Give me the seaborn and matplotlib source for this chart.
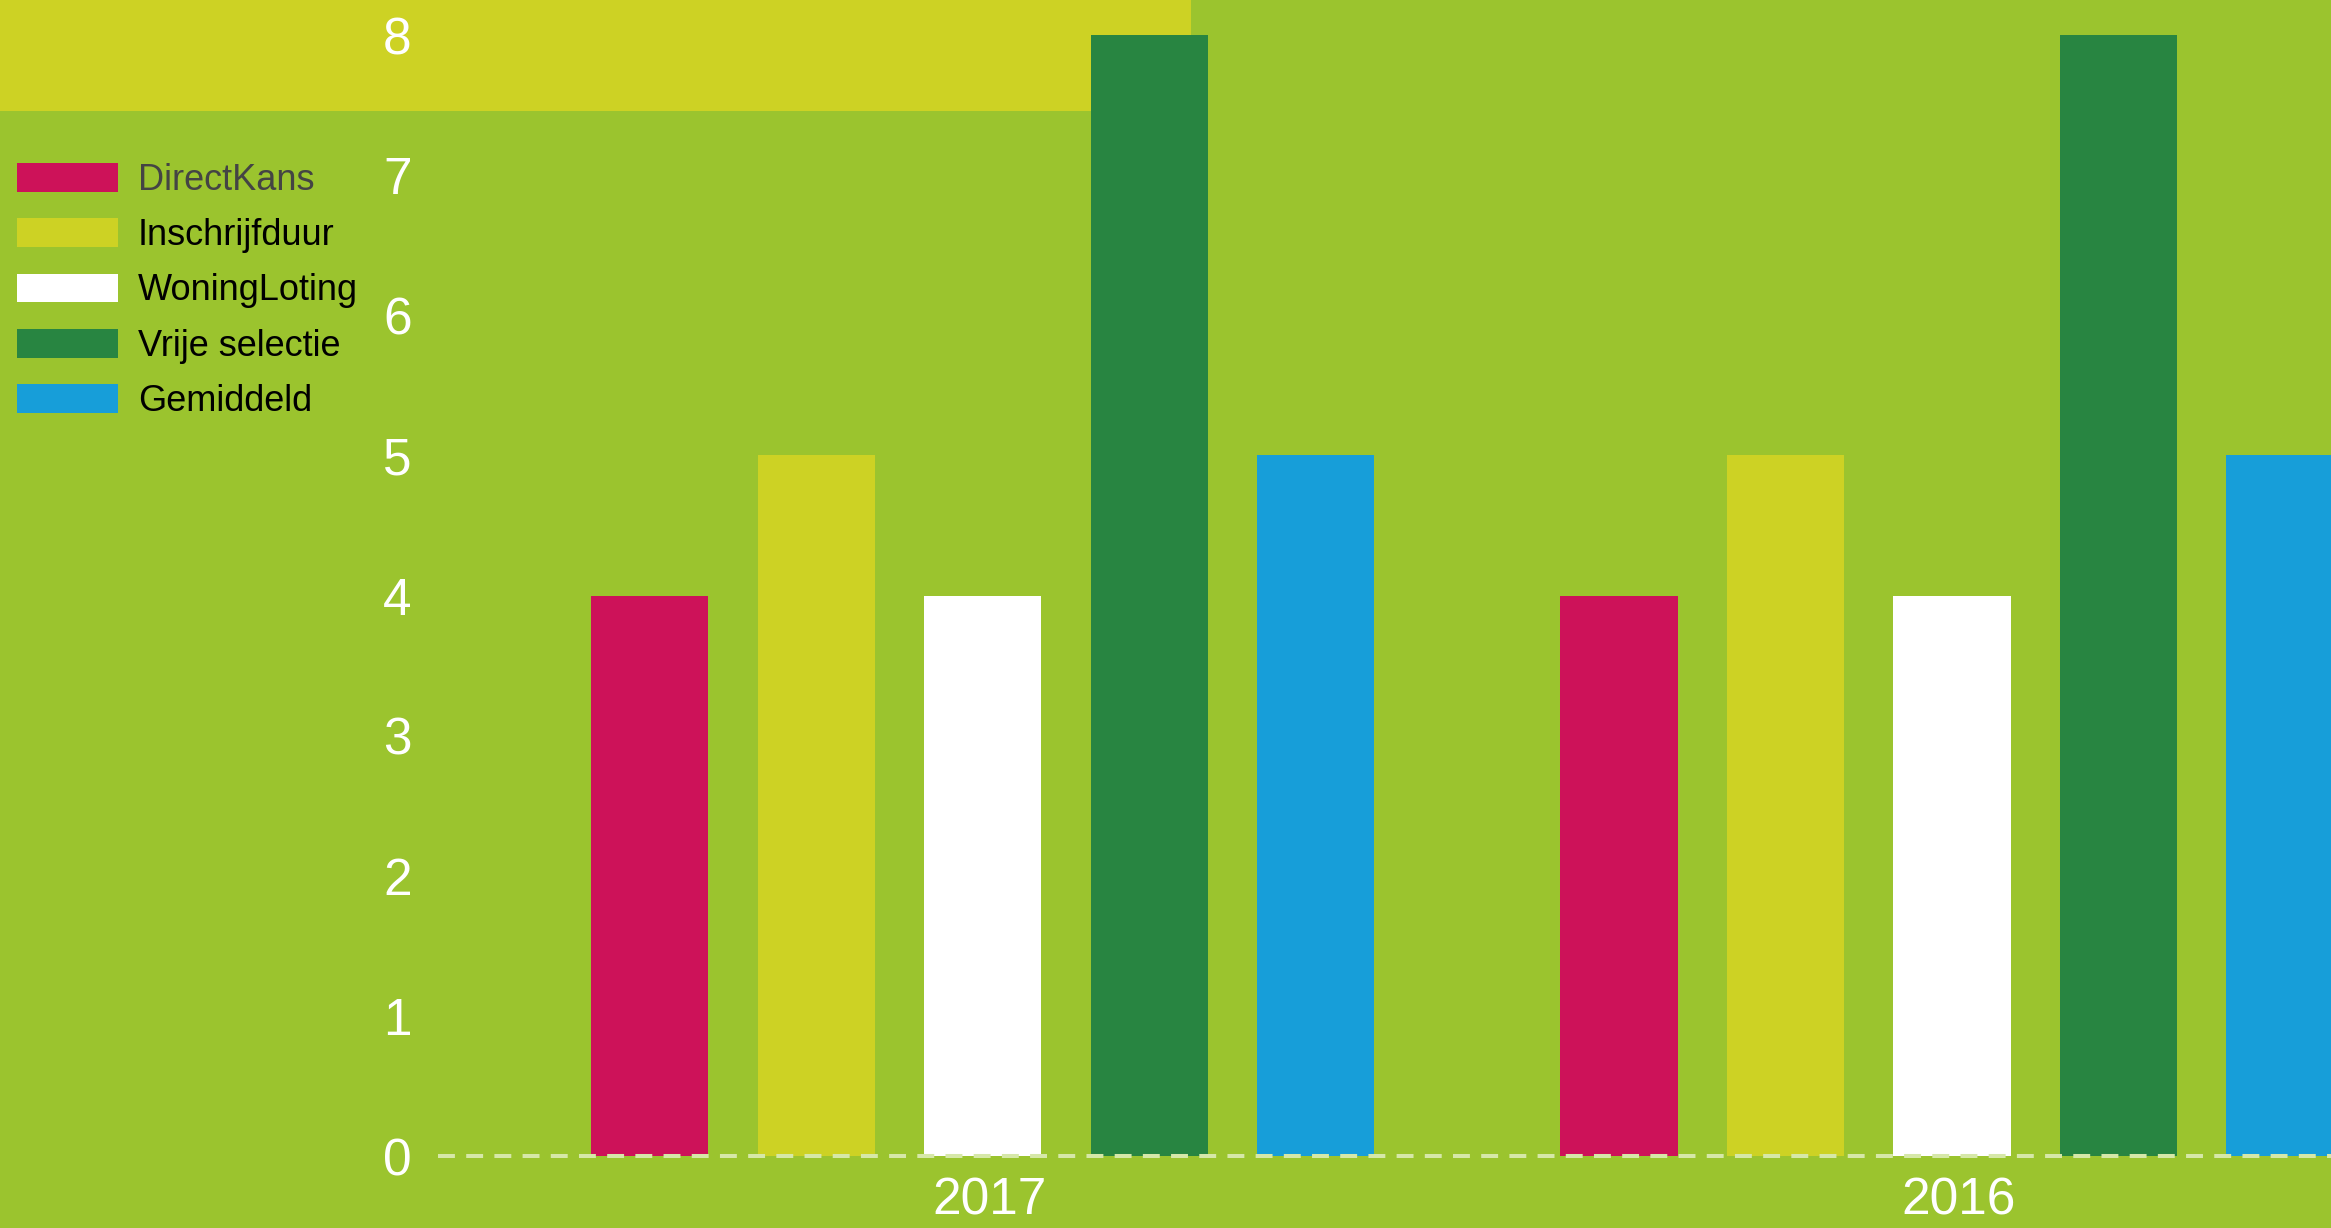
import pandas as pd
import matplotlib
matplotlib.use("Agg")
import matplotlib.pyplot as plt
import matplotlib.transforms as mtransforms
from matplotlib.patches import Rectangle
import seaborn as sns

# chart data
years = ["2017", "2016"]
methods = ["DirectKans", "Inschrijfduur", "WoningLoting", "Vrije selectie", "Gemiddeld"]
values_2017 = [4, 5, 4, 8, 5]
values_2016 = [4, 5, 4, 8, 5]
colors = ["#CD1259", "#CDD224", "#FFFFFF", "#288541", "#179ED9"]
y_ticks = [0, 1, 2, 3, 4, 5, 6, 7, 8]

bg_green = "#9BC42E"
bg_yellow = "#CDD224"

rows = []
for m, v in zip(methods, values_2017):
    rows.append({"year": "2017", "method": m, "value": v})
for m, v in zip(methods, values_2016):
    rows.append({"year": "2016", "method": m, "value": v})
df = pd.DataFrame(rows)

sns.set_style("white")
plt.rcParams["font.family"] = ["Liberation Sans", "DejaVu Sans"]

W, H = 2331, 1228
fig = plt.figure(figsize=(W / 100, H / 100), dpi=100, facecolor=bg_green)

# yellow band top-left
fig.patches.append(Rectangle((0, 1 - 111 / H), 1191 / W, 111 / H,
                             transform=fig.transFigure, facecolor=bg_yellow,
                             edgecolor="none", zorder=-1))

ax = fig.add_axes([438 / W, (H - 1156) / H, 1 - 438 / W, 1156 / H])
ax.set_facecolor("none")

sns.barplot(data=df, x="year", y="value", hue="method", order=years,
            hue_order=methods, palette=colors, saturation=1, errorbar=None,
            width=0.859, gap=0.295, linewidth=0, ax=ax, legend=False)

ax.set_xlim(-0.562, 1.391)
ax.set_ylim(0, 8.25)
ax.set_yticks(y_ticks)
ax.set_xlabel("")
ax.set_ylabel("")
for s in ax.spines.values():
    s.set_visible(False)
ax.tick_params(axis="both", length=0, labelsize=37, labelcolor="white")
ax.tick_params(axis="y", pad=19)
ax.tick_params(axis="x", pad=15)
shift = mtransforms.ScaledTranslation(7 / 100, 0, fig.dpi_scale_trans)
for lbl in ax.get_xticklabels():
    lbl.set_transform(lbl.get_transform() + shift)

ax.axhline(0, color="#D6E8A8", linewidth=2.9, linestyle=(0, (4.2, 2.8)),
           zorder=3, clip_on=False)

handles = [Rectangle((0, 0), 1, 1, facecolor=c, edgecolor="none") for c in colors]
leg = fig.legend(handles, methods, loc="upper left",
                 bbox_to_anchor=(17 / W, 1 - 163 / H), frameon=False,
                 fontsize=26, handlelength=2.8, handleheight=0.85,
                 handletextpad=0.55, labelspacing=0.56, borderpad=0,
                 borderaxespad=0)
for i, t in enumerate(leg.get_texts()):
    t.set_color("#444444" if i == 0 else "black")

fig.savefig("out.png", dpi=100, facecolor=bg_green)
